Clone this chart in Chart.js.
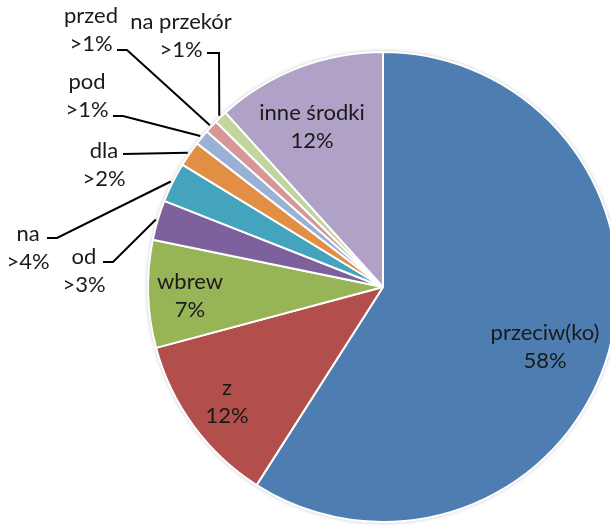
<!DOCTYPE html>
<html lang="pl">

<head>
    <meta charset="UTF-8" />
    <title>Wykres</title>
    <script src="https://cdn.jsdelivr.net/npm/chart.js"></script>
    <style>
        html, body { margin: 0; padding: 0; background: #fff; overflow: hidden; }
        #wrap { position: absolute; left: 0; top: 0; width: 766px; height: 574px; }
    </style>
</head>

<body>
    <div id="wrap"><canvas id="grafico_pizza" width="766" height="574"></canvas></div>
</body>

<script>
    // dados
    var categorias = ['przeciw(ko)', 'z', 'wbrew', 'od', 'na', 'dla', 'pod', 'przed', 'na przekór', 'inne środki'];
    var udzialy = [59.1, 11.8, 7.4, 2.75, 2.75, 1.75, 1.05, 0.9, 0.9, 11.7];
    var etykiety_proc = ['58%', '12%', '7%', '>3%', '>4%', '>2%', '>1%', '>1%', '>1%', '12%'];

    var cores = ['#4E7DB2', '#B24F4C', '#97B457', '#7D619D', '#45A4BD', '#E28F45', '#98B1D5', '#D59896', '#C1D59C', '#B0A1C6'];

    // posicao dos textos (px) + ponto do cotovelo da linha
    var posicoes = [
        { x: 545, y: 333 },
        { x: 227, y: 388 },
        { x: 190, y: 282 },
        { x: 84, y: 257, de: [103, 262], cot: [113, 262] },
        { x: 28, y: 234, de: [47, 238], cot: [57, 238] },
        { x: 104, y: 151, de: [123, 154], cot: null },
        { x: 87, y: 82, de: [113, 116], cot: [123, 116] },
        { x: 91, y: 16, de: [117, 50], cot: [127, 50] },
        { x: 181, y: 22, de: [207, 53], cot: [219, 53] },
        { x: 312, y: 113 }
    ];

    var fonte = '22px Lato, "Noto Sans", sans-serif';
    var altura_linha = 28;

    const sombra = {
        id: 'sombra',
        beforeDatasetsDraw(chart) {
            const arc = chart.getDatasetMeta(0).data[0];
            const ctx = chart.ctx;
            ctx.save();
            ctx.shadowColor = 'rgba(0,0,0,0.35)';
            ctx.shadowBlur = 4;
            ctx.fillStyle = '#fff';
            ctx.beginPath();
            ctx.arc(arc.x, arc.y, arc.outerRadius, 0, Math.PI * 2);
            ctx.fill();
            ctx.restore();
        }
    };

    const rotulos = {
        id: 'rotulos',
        afterDatasetsDraw(chart) {
            const ctx = chart.ctx;
            const arcos = chart.getDatasetMeta(0).data;
            ctx.save();
            ctx.font = fonte;
            ctx.fillStyle = '#1a1a1a';
            ctx.textAlign = 'center';
            ctx.textBaseline = 'middle';
            ctx.strokeStyle = '#000';
            ctx.lineWidth = 2;
            for (var i = 0; i < arcos.length; i++) {
                var p = posicoes[i];
                ctx.fillText(categorias[i], p.x, p.y);
                ctx.fillText(etykiety_proc[i], p.x, p.y + altura_linha);
                if (p.de) {
                    var a = arcos[i];
                    var meio = (a.startAngle + a.endAngle) / 2;
                    var r = a.outerRadius + 2;
                    var fx = a.x + Math.cos(meio) * r;
                    var fy = a.y + Math.sin(meio) * r;
                    ctx.beginPath();
                    ctx.moveTo(p.de[0], p.de[1]);
                    if (p.cot) ctx.lineTo(p.cot[0], p.cot[1]);
                    ctx.lineTo(fx, fy);
                    ctx.stroke();
                }
            }
            ctx.restore();
        }
    };

    const dados_pizza = document.getElementById('grafico_pizza');
    new Chart(dados_pizza, {
        type: 'pie',
        data: {
            labels: categorias,
            datasets: [{
                data: udzialy,
                backgroundColor: cores,
                borderColor: '#fff',
                borderWidth: 2
            }]
        },
        options: {
            responsive: false,
            animation: false,
            radius: 235,
            layout: { padding: 0 },
            plugins: {
                legend: { display: false },
                tooltip: { enabled: false }
            }
        },
        plugins: [sombra, rotulos]
    });
</script>

</html>
